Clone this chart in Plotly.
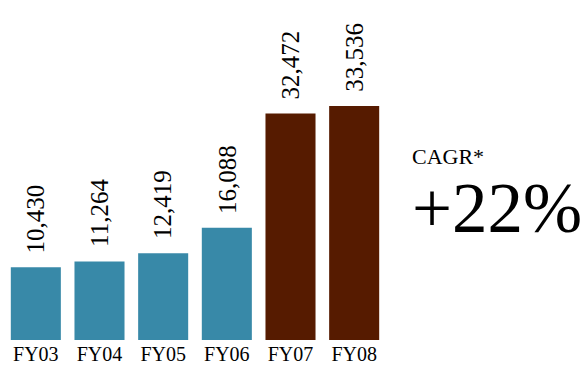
import plotly.graph_objects as go

categories = ["FY03", "FY04", "FY05", "FY06", "FY07", "FY08"]
values = [10430, 11264, 12419, 16088, 32472, 33536]
bar_colors = ["#3889a8", "#3889a8", "#3889a8", "#3889a8", "#561b00", "#561b00"]
value_labels = [f"{v:,}" for v in values]
cagr_label = "CAGR*"
cagr_value = "+22%"

SERIF = "Liberation Serif, Times New Roman, serif"

fig = go.Figure()
fig.add_trace(go.Bar(
    x=categories, y=values,
    marker=dict(color=bar_colors, line=dict(width=0)),
    width=0.786,
    hoverinfo="x+y",
))

for cat, val, lab in zip(categories, values, value_labels):
    fig.add_annotation(x=cat, y=val, text=lab, textangle=-90, showarrow=False,
                       xanchor="center", yanchor="bottom", yshift=12,
                       font=dict(family=SERIF, size=25, color="#000000"))

fig.add_annotation(text=cagr_label, xref="paper", yref="paper", x=1.062, y=0.497,
                   xanchor="left", yanchor="bottom", showarrow=False,
                   font=dict(family=SERIF, size=22, color="#000000"))
fig.add_annotation(text=cagr_value, xref="paper", yref="paper", x=1.062, y=0.508,
                   xanchor="left", yanchor="top", showarrow=False,
                   font=dict(family=SERIF, size=71, color="#000000"))

fig.update_layout(
    width=587, height=365,
    margin=dict(l=4, r=201, t=0, b=25, autoexpand=False),
    paper_bgcolor="white", plot_bgcolor="white",
    showlegend=False,
    bargap=0.214,
    font=dict(family=SERIF, color="#000000"),
    xaxis=dict(showgrid=False, zeroline=False, showline=False, ticks="",
               automargin=False, ticklen=0,
               tickfont=dict(family=SERIF, size=20, color="#000000"),
               range=[-0.5, 5.5]),
    yaxis=dict(visible=False, range=[0, 48725], automargin=False),
)

fig.write_html("out.html")
